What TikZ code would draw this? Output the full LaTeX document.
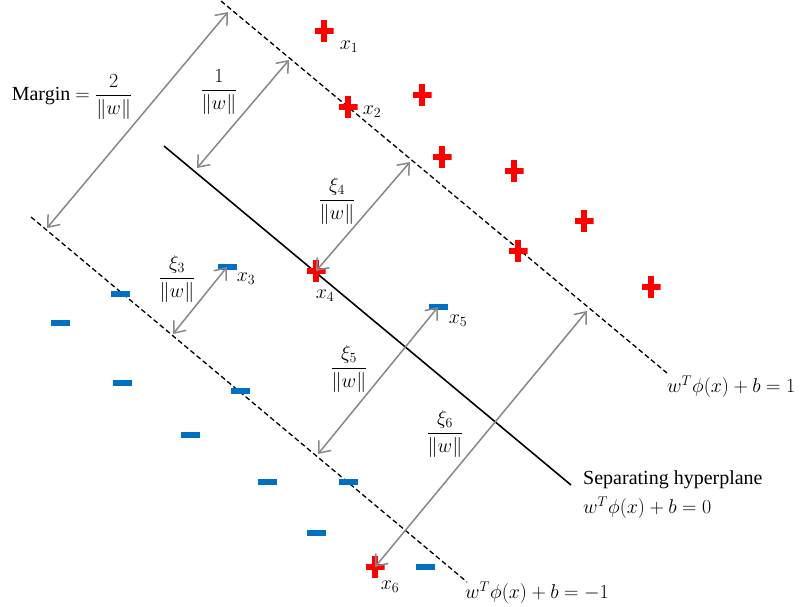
\RequirePackage{fix-cm}
\documentclass[tikz,border=0pt]{standalone}
\usepackage{amsmath}
\usepackage{fontspec}
\setmainfont{Liberation Serif}
\usetikzlibrary{arrows.meta}
\definecolor{posred}{RGB}{255,0,0}
\definecolor{negblue}{RGB}{0,112,192}
\definecolor{gapgray}{RGB}{135,135,135}

\begin{document}
\begin{tikzpicture}[x=1pt, y=-1pt, >={Straight Barb[length=10pt,width=16pt]},
    font=\fontsize{20}{24}\selectfont,
    posmark/.style={minimum width=19pt, minimum height=22pt, inner sep=0pt,
      path picture={
        \fill[posred] ([xshift=-9.5pt,yshift=-3pt]path picture bounding box.center) rectangle ([xshift=9.5pt,yshift=3pt]path picture bounding box.center);
        \fill[posred] ([xshift=-3pt,yshift=-11pt]path picture bounding box.center) rectangle ([xshift=3pt,yshift=11pt]path picture bounding box.center);
      }},
    negmark/.style={fill=negblue, minimum width=19pt, minimum height=5.5pt, inner sep=0pt},
    bound/.style={line width=1.3pt, dash pattern=on 5pt off 3pt},
    gap/.style={<->, gapgray, line width=1.5pt}]
				\useasboundingbox (0,0) rectangle (802,606);
				
				% the three lines
				\coordinate (up1) at (221,1);
				\coordinate (up2) at (667,373);
				\coordinate (hp1) at (164,146);
				\coordinate (hp2) at (571,485);
				\coordinate (lo1) at (31,217);
				\coordinate (lo2) at (467,582);
				
				\draw[bound] (up1) -- (up2);
				\draw[line width=1.6pt] (hp1) -- (hp2);
				\draw[bound] (lo1) -- (lo2);
				
				% positive class
				\node[posmark] (x1) at (324,31) {};
				\node[posmark] (x2) at (348,107) {};
				\node[posmark] (pa) at (422,95) {};
				\node[posmark] (pb) at (442,157) {};
				\node[posmark] (pc) at (514,171) {};
				\node[posmark] (pd) at (518,251) {};
				\node[posmark] (pe) at (584,221) {};
				\node[posmark] (pf) at (651,287) {};
				\node[posmark] (x4) at (316,271) {};
				\node[posmark] (x6) at (375,567) {};
				
				% negative class
				\node[negmark] (x3) at (227,267) {};
				\node[negmark] (x5) at (438,307) {};
				\node[negmark] (na) at (120,294) {};
				\node[negmark] (nb) at (60,323) {};
				\node[negmark] (nc) at (122,383) {};
				\node[negmark] (nd) at (240,391) {};
				\node[negmark] (ne) at (190,435) {};
				\node[negmark] (nf) at (267,482) {};
				\node[negmark] (ng) at (348,482) {};
				\node[negmark] (nh) at (316,533) {};
				\node[negmark] (ni) at (425,567) {};
				
				\node (lx1) at (349,47) {$x_1$};
				\node (lx2) at (372,112) {$x_2$};
				\node (lx3) at (246,279) {$x_3$};
				\node (lx4) at (325,296) {$x_4$};
				\node (lx5) at (458,321) {$x_5$};
				\node (lx6) at (390,587) {$x_6$};
				
				% distances
				\coordinate (ma) at (47,228);
				\coordinate (mb) at (228,12);
				\coordinate (oa) at (197,168);
				\coordinate (ob) at (289,60);
				\coordinate (fb) at (410,162);
				\coordinate (ta) at (173,334);
				\coordinate (fa) at (318,454);
				\coordinate (sb) at (587,311);
				
				\draw[gap] (ma) -- (mb);
				\draw[gap] (oa) -- (ob);
				\draw[gap] (x4.center) -- (fb);
				\draw[gap] (ta) -- (x3.center);
				\draw[gap] (fa) -- (x5.center);
				\draw[gap] (x6.center) -- (sb);
				
				\node (margin) at (72,97) {Margin $=\dfrac{2}{\|w\|}$};
				\node (one) at (219,92) {$\dfrac{1}{\|w\|}$};
				\node (xi4) at (337,201) {$\dfrac{\xi_4}{\|w\|}$};
				\node (xi3) at (177,279) {$\dfrac{\xi_3}{\|w\|}$};
				\node (xi5) at (349,369) {$\dfrac{\xi_5}{\|w\|}$};
				\node (xi6) at (445,434) {$\dfrac{\xi_6}{\|w\|}$};
				
				\node[anchor=west, inner sep=0pt] (plus) at (667,387) {$w^T\phi(x)+b=1$};
				\node[anchor=west, inner sep=0pt] (sep) at (583,480) {Separating hyperplane};
				\node[anchor=west, inner sep=0pt] (zero) at (583,508) {$w^T\phi(x)+b=0$};
				\node[anchor=west, inner sep=0pt] (minus) at (465,593) {$w^T\phi(x)+b=-1$};
			\end{tikzpicture}
\end{document}
